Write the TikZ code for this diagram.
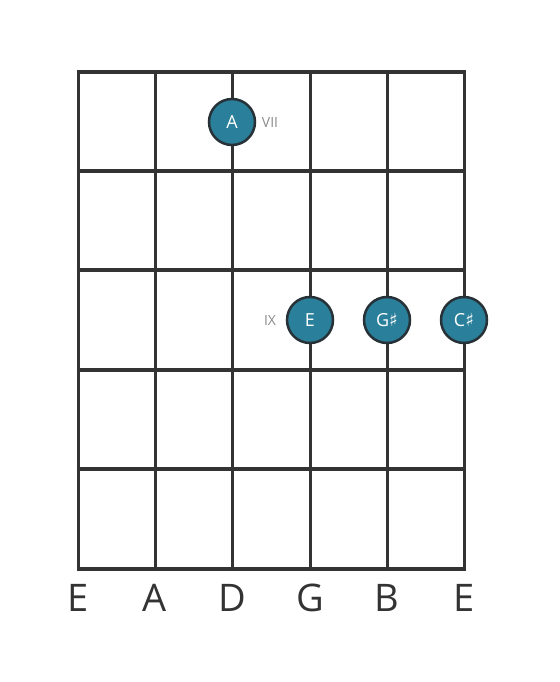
\documentclass[tikz,border=0pt]{standalone}
\usepackage{fontspec}
\setmainfont{Open Sans}
\newfontfamily\symfont{DejaVu Sans}
\newcommand{\shrp}{{\symfont ♯}}
\definecolor{gridc}{HTML}{333333}
\definecolor{dotfill}{HTML}{2A7F9A}
\definecolor{dotline}{HTML}{263238}
\definecolor{romc}{HTML}{8A8A8A}
\begin{document}
\begin{tikzpicture}[x=1pt,y=-1pt,
  fret/.style={draw=gridc,line width=4.5pt},
  strg/.style={draw=gridc,line width=3pt},
  note/.style={circle,fill=dotfill,draw=dotline,line width=2.5pt,minimum size=46pt,inner sep=0pt,text=white,font=\fontsize{18}{18}\selectfont},
  roman/.style={text=romc,font=\fontsize{14}{14}\selectfont},
  sname/.style={text=gridc,font=\fontsize{38}{38}\selectfont}]
\useasboundingbox (0,0) rectangle (559,682);
% strings
\foreach \x/\n in {78/s1,155/s2,232/s3,310/s4,387/s5,464/s6}{
  \coordinate (\n t) at (\x,72);
  \coordinate (\n b) at (\x,569);
  \draw[strg] (\n t) -- (\n b);
}
% frets
\foreach \y/\n in {72/f0,171/f1,270/f2,370/f3,469/f4,569/f5}{
  \coordinate (\n l) at (76.5,\y);
  \coordinate (\n r) at (465.5,\y);
  \draw[fret] (\n l) -- (\n r);
}
% notes
\node[note] (nA) at (232,122) {A};
\node[roman] (r7) at (270,123) {VII};
\node[note] (nE) at (310,320) {E};
\node[note] (nGs) at (387,320) {G\shrp};
\node[note] (nCs) at (464,320) {C\shrp};
\node[roman] (r9) at (270,321) {IX};
% string names
\foreach \x/\t/\n in {78/E/l1,155/A/l2,232/D/l3,310/G/l4,387/B/l5,464/E/l6}{
  \node[sname] (\n) at (\x,598) {\t};
}
\end{tikzpicture}
\end{document}
